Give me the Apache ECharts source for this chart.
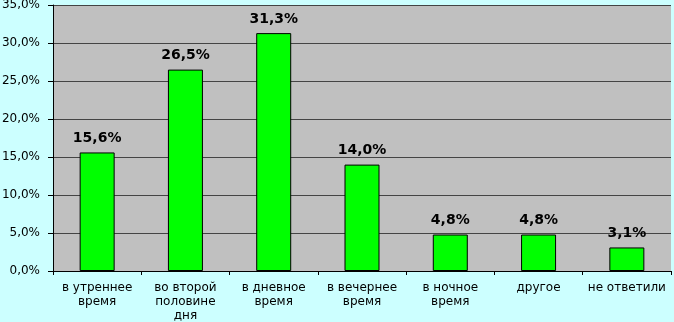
<!DOCTYPE html>
<html>
<head>
<meta charset="utf-8">
<script src="https://cdn.jsdelivr.net/npm/echarts@6/dist/echarts.min.js"></script>
<style>
html,body{margin:0;padding:0;background:#ccffff;}
#container{width:674px;height:322px;}
</style>
</head>
<body>
<div id="container"></div>
<script>
var categories = ['в утреннее\nвремя', 'во второй\nполовине\nдня', 'в дневное\nвремя', 'в вечернее\nвремя', 'в ночное\nвремя', 'другое', 'не ответили'];
var values = [15.6, 26.5, 31.3, 14.0, 4.8, 4.8, 3.1];

var myChart = echarts.init(document.getElementById('container'));
var option = {
	backgroundColor: '#ccffff',
	textStyle: { fontFamily: '"DejaVu Sans", Verdana, sans-serif' },
	grid: {
		left: 53, right: 3, top: 5, bottom: 51,
		outerBoundsMode: 'none', containLabel: false,
		backgroundColor: '#c0c0c0', show: true, borderWidth: 0
	},
	xAxis: {
		type: 'category',
		data: categories,
		axisLine: { lineStyle: { color: '#000', width: 1 } },
		axisTick: { show: true, alignWithLabel: false, length: 4, lineStyle: { color: '#000' } },
		axisLabel: { color: '#000', fontSize: 12, lineHeight: 14, margin: 10, interval: 0 }
	},
	yAxis: {
		type: 'value',
		min: 0,
		max: 35,
		interval: 5,
		axisLine: { show: true, lineStyle: { color: '#000' } },
		axisTick: { show: true, length: 5, lineStyle: { color: '#000' } },
		splitLine: { lineStyle: { color: '#444', width: 1 } },
		axisLabel: {
			color: '#000', fontSize: 12, margin: 13,
			formatter: function (v) { return v.toFixed(1).replace('.', ',') + '%'; }
		}
	},
	series: [{
		type: 'bar',
		data: values,
		barWidth: 35,
		itemStyle: { color: '#00ff00', borderColor: '#000', borderWidth: 1 },
		label: {
			show: true, position: 'top', distance: 7,
			color: '#000', fontWeight: 'bold', fontSize: 14,
			formatter: function (p) { return p.value.toFixed(1).replace('.', ',') + '%'; }
		}
	}]
};
myChart.setOption(option);
</script>
</body>
</html>
